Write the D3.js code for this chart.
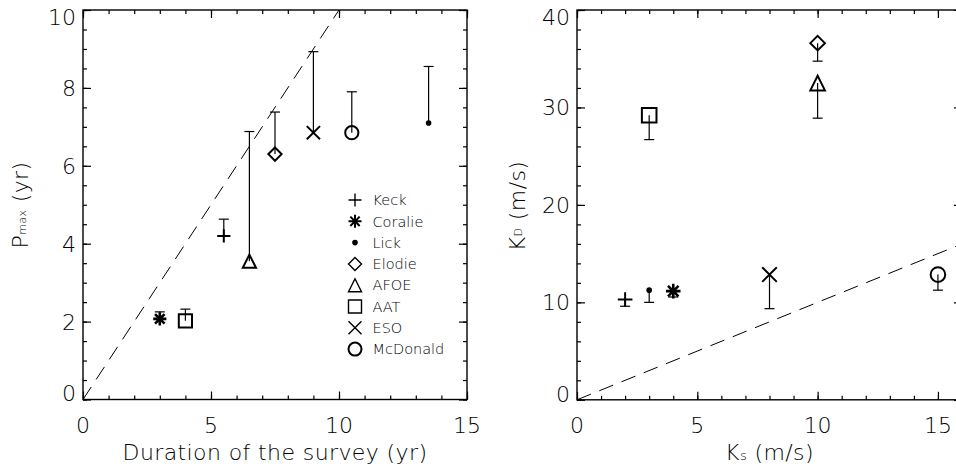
<!DOCTYPE html>
<html>
<head>
<meta charset="utf-8">
<script src="https://cdnjs.cloudflare.com/ajax/libs/d3/7.8.5/d3.min.js"></script>
<style>
body{margin:0;background:#fff;}
svg{display:block;background:#fff;font-family:"DejaVu Sans",sans-serif;}
.lbl{font-size:22px;font-weight:200;fill:#000;}
.ttl{letter-spacing:0.4px;}
.leg{font-size:14.5px;font-weight:200;fill:#000;}
</style>
</head>
<body>
<svg width="956" height="470"></svg>
<script>
var names = ["Keck","Coralie","Lick","Elodie","AFOE","AAT","ESO","McDonald"];
var symbols = ["plus","asterisk","dot","diamond","triangle","square","x","circle"];

// left panel : survey duration vs P_max, error bar goes up
var duration = [5.5, 3, 13.5, 7.5, 6.5, 4, 9, 10.5];
var pmax = [4.2, 2.07, 7.1, 6.3, 3.55, 2.02, 6.85, 6.85];
var pmaxUpper = [4.63, 2.25, 8.55, 7.38, 6.88, 2.32, 8.93, 7.9];

// right panel : K_s vs K_D, error bar goes down
var ks = [2, 4, 3, 10, 10, 3, 8, 15];
var kd = [10.3, 11.15, 11.25, 36.6, 32.5, 29.2, 12.85, 12.85];
var kdLower = [9.6, 10.55, 10.0, 34.75, 28.9, 26.7, 9.35, 11.25];

var leftXTicks = [0, 5, 10, 15];
var leftYTicks = [0, 2, 4, 6, 8, 10];
var rightXTicks = [0, 5, 10, 15];
var rightYTicks = [0, 10, 20, 30, 40];

var svg = d3.select("svg");

function symbolPath(type, s){
  var d = s * 0.72;
  switch(type){
    case "plus":
      return "M"+(-s)+",0H"+s+"M0,"+(-s)+"V"+s;
    case "x":
      return "M"+(-s)+","+(-s)+"L"+s+","+s+"M"+(-s)+","+s+"L"+s+","+(-s);
    case "asterisk":
      return "M"+(-s)+",0H"+s+"M0,"+(-s)+"V"+s+
        "M"+(-d)+","+(-d)+"L"+d+","+d+"M"+(-d)+","+d+"L"+d+","+(-d);
    case "diamond":
      return "M0,"+(-s)+"L"+s+",0L0,"+s+"L"+(-s)+",0Z";
    case "triangle":
      return "M0,"+(-s)+"L"+s+","+s+"L"+(-s)+","+s+"Z";
    case "square":
      return "M"+(-s)+","+(-s)+"H"+s+"V"+s+"H"+(-s)+"Z";
    case "circle":
      return "M"+s+",0A"+s+","+s+" 0 1,1 "+(-s)+",0A"+s+","+s+" 0 1,1 "+s+",0";
    case "dot":
      var r = 2.8;
      return "M"+r+",0A"+r+","+r+" 0 1,1 "+(-r)+",0A"+r+","+r+" 0 1,1 "+r+",0Z";
  }
}

function drawSymbol(g, type, cx, cy, s, sw){
  g.append("path")
    .attr("d", symbolPath(type, s))
    .attr("transform", "translate("+cx+","+cy+")")
    .attr("fill", type === "dot" ? "#000" : "none")
    .attr("stroke", "#000")
    .attr("stroke-width", type === "dot" ? 0 : (type === "asterisk" ? sw + 0.6 : sw));
}

function drawPanel(cfg){
  var g = svg.append("g");
  var x = d3.scaleLinear().domain(cfg.xDomain).range([cfg.left, cfg.right]);
  var y = d3.scaleLinear().domain(cfg.yDomain).range([cfg.bottom, cfg.top]);

  var xMinor = d3.range(cfg.xDomain[0], cfg.xDomain[1] + 0.001, cfg.xMinor);
  var yMinor = d3.range(cfg.yDomain[0], cfg.yDomain[1] + 0.001, cfg.yMinor);

  // ticks on all four sides, pointing inward
  var sides = [
    [d3.axisBottom, x, "translate(0,"+cfg.bottom+")", xMinor, cfg.xTicks],
    [d3.axisTop, x, "translate(0,"+cfg.top+")", xMinor, cfg.xTicks],
    [d3.axisLeft, y, "translate("+cfg.left+",0)", yMinor, cfg.yTicks],
    [d3.axisRight, y, "translate("+cfg.right+",0)", yMinor, cfg.yTicks]
  ];
  sides.forEach(function(sd){
    g.append("g").attr("transform", sd[2])
      .call(sd[0](sd[1]).tickValues(sd[3]).tickSize(-4).tickFormat(""))
      .call(function(a){ a.select(".domain").remove(); });
    g.append("g").attr("transform", sd[2])
      .call(sd[0](sd[1]).tickValues(sd[4]).tickSize(-8).tickFormat(""))
      .call(function(a){ a.select(".domain").remove(); });
  });
  g.selectAll(".tick line").attr("stroke", "#000").attr("stroke-width", 1.2);

  // X tick labels
  g.append("g").selectAll("text")
    .data(cfg.xTicks)
    .enter()
    .append("text")
    .attr("class", "lbl")
    .attr("x", function(d){ return x(d); })
    .attr("y", cfg.bottom + 33.5)
    .attr("text-anchor", "middle")
    .text(function(d){ return d; });

  // Y tick labels (end labels nudged inward)
  g.append("g").selectAll("text")
    .data(cfg.yTicks)
    .enter()
    .append("text")
    .attr("class", "lbl")
    .attr("x", cfg.left - 7)
    .attr("y", function(d){
      var off = d === cfg.yDomain[1] ? 7 : (d === cfg.yDomain[0] ? -6 : 0);
      return y(d) + off;
    })
    .attr("dy", "0.36em")
    .attr("text-anchor", "end")
    .text(function(d){ return d; });

  // box
  g.append("rect")
    .attr("x", cfg.left)
    .attr("y", cfg.top)
    .attr("width", cfg.right - cfg.left)
    .attr("height", cfg.bottom - cfg.top)
    .attr("fill", "none")
    .attr("stroke", "#000")
    .attr("stroke-width", 1.4);

  // dashed one-to-one line
  var clipId = "clip" + cfg.left;
  g.append("clipPath").attr("id", clipId)
    .append("rect")
    .attr("x", cfg.left).attr("y", cfg.top)
    .attr("width", cfg.right - cfg.left).attr("height", cfg.bottom - cfg.top);
  g.append("line")
    .attr("clip-path", "url(#"+clipId+")")
    .attr("x1", x(0)).attr("y1", y(0))
    .attr("x2", x(cfg.lineEnd)).attr("y2", y(cfg.lineEnd))
    .attr("stroke", "#000")
    .attr("stroke-width", 1)
    .attr("stroke-dasharray", "15,9");

  // error bars
  var eb = g.append("g").attr("stroke", "#000").attr("stroke-width", 1.2);
  cfg.xs.forEach(function(v, i){
    var px = x(v), py = y(cfg.ys[i]), pe = y(cfg.err[i]);
    eb.append("line").attr("x1", px).attr("x2", px).attr("y1", py).attr("y2", pe);
    eb.append("line").attr("x1", px - 5).attr("x2", px + 5).attr("y1", pe).attr("y2", pe);
  });

  // data points
  var pts = g.append("g");
  cfg.xs.forEach(function(v, i){
    drawSymbol(pts, symbols[i], x(v), y(cfg.ys[i]), cfg.size, 2);
  });

  return g;
}

//Left panel
drawPanel({
  left: 83, right: 467, top: 10, bottom: 399.5,
  xDomain: [0, 15], yDomain: [0, 10],
  xMinor: 1, yMinor: 0.5,
  xTicks: leftXTicks, yTicks: leftYTicks,
  xs: duration, ys: pmax, err: pmaxUpper,
  lineEnd: 10, size: 6.6
});

//Right panel
drawPanel({
  left: 577, right: 962, top: 10, bottom: 399.8,
  xDomain: [0, 16], yDomain: [0, 40],
  xMinor: 1, yMinor: 2,
  xTicks: rightXTicks, yTicks: rightYTicks,
  xs: ks, ys: kd, err: kdLower,
  lineEnd: 16, size: 7.3
});

//Axis titles
svg.append("text")
  .attr("class", "lbl ttl")
  .attr("x", 275).attr("y", 460)
  .attr("text-anchor", "middle")
  .text("Duration of the survey (yr)");

var kx = svg.append("text")
  .attr("class", "lbl ttl")
  .attr("x", 769.5).attr("y", 460)
  .attr("text-anchor", "middle");
kx.append("tspan").text("K");
kx.append("tspan").attr("font-size", "13px").text("s");
kx.append("tspan").text(" (m/s)");

var py = svg.append("text")
  .attr("class", "lbl ttl")
  .attr("text-anchor", "middle")
  .attr("transform", "translate(28,205) rotate(-90)");
py.append("tspan").text("P");
py.append("tspan").attr("font-size", "11px").attr("dy", -2).text("max");
py.append("tspan").attr("dy", 2).text(" (yr)");

var ky = svg.append("text")
  .attr("class", "lbl ttl")
  .attr("text-anchor", "middle")
  .attr("transform", "translate(525,206) rotate(-90)");
ky.append("tspan").text("K");
ky.append("tspan").attr("font-size", "11px").attr("dy", -3).text("D");
ky.append("tspan").attr("dy", 3).text(" (m/s)");

//Legend
var legend = svg.append("g").attr("transform", "translate(355,200)");
names.forEach(function(n, i){
  var ly = i * 21.3;
  drawSymbol(legend, symbols[i], 0, ly, 6.5, symbols[i] === "circle" ? 2 : 1.4);
  legend.append("text")
    .attr("class", "leg")
    .attr("x", 17.5)
    .attr("y", ly)
    .attr("dy", "0.36em")
    .text(n);
});
</script>
</body>
</html>
